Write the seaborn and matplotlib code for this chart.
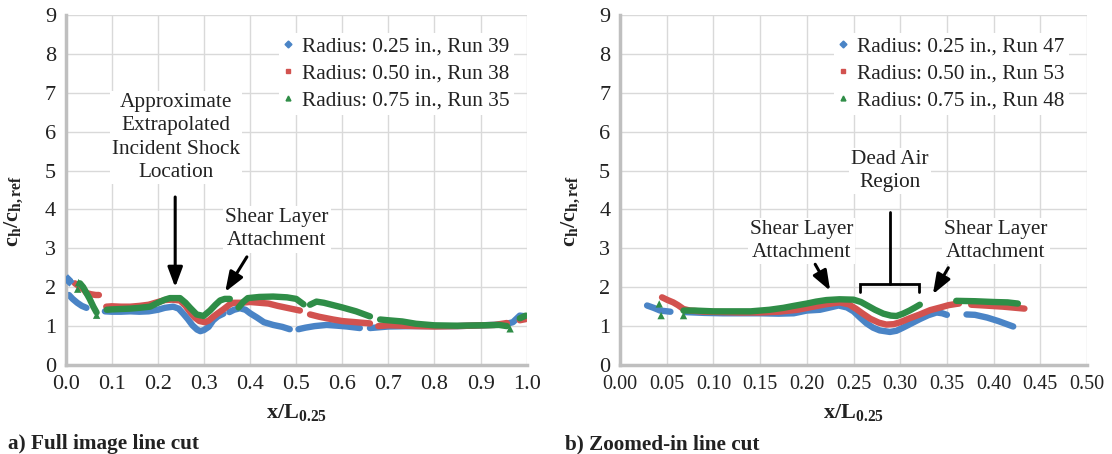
import numpy as np
import pandas as pd
import matplotlib
matplotlib.use("Agg")
import matplotlib.pyplot as plt
from matplotlib.lines import Line2D
from matplotlib.ticker import FormatStrFormatter
import seaborn as sns

nan = np.nan

# ---------------- series labels and colours ----------------
labels_full = ["Radius: 0.25 in., Run 39", "Radius: 0.50 in., Run 38", "Radius: 0.75 in., Run 35"]
labels_zoom = ["Radius: 0.25 in., Run 47", "Radius: 0.50 in., Run 53", "Radius: 0.75 in., Run 48"]
colors = ["#4A84C6", "#D2524F", "#2F8D47"]
markers = ["D", "s", "^"]

# ---------------- a) full image line cut (nan separates runs of points) ----------------
full_r025_x = [0.007, 0.015, 0.025, 0.035, 0.045, nan,
               0.085, 0.10, 0.12, 0.14, 0.16, 0.18, 0.20, 0.215, 0.233, 0.245, 0.255, 0.265, 0.275,
               0.285, 0.292, 0.300, 0.31, 0.32, 0.33, 0.342, nan,
               0.355, 0.365, 0.378, 0.39, 0.40, 0.415, 0.43, 0.45, 0.47, 0.486, nan,
               0.505, 0.52, 0.54, 0.566, 0.59, 0.61, 0.638, nan,
               0.66, 0.70, 0.75, 0.80, 0.85, 0.90, 0.95, 0.97, 0.985, 0.998]
full_r025_y = [1.80, 1.70, 1.60, 1.52, 1.47, nan,
               1.38, 1.37, 1.37, 1.38, 1.37, 1.38, 1.42, 1.47, 1.50, 1.45, 1.32, 1.18, 1.02,
               0.91, 0.87, 0.90, 0.98, 1.15, 1.25, 1.32, nan,
               1.36, 1.42, 1.46, 1.42, 1.33, 1.22, 1.10, 1.03, 0.98, 0.92, nan,
               0.92, 0.96, 1.00, 1.03, 1.01, 0.99, 0.95, nan,
               0.95, 0.99, 1.00, 1.00, 1.00, 1.02, 1.04, 1.10, 1.27, 1.25]
full_r050_x = [0.020, 0.030, 0.040, 0.045, 0.055, 0.065, 0.072, nan,
               0.088, 0.10, 0.12, 0.14, 0.16, 0.18, 0.20, 0.215, 0.23, 0.248, 0.26, 0.27, 0.28,
               0.29, 0.302, 0.31, 0.32, 0.33, 0.342, 0.356, 0.364, 0.38, 0.40, 0.42, 0.44,
               0.46, 0.48, 0.50, 0.508, nan,
               0.53, 0.55, 0.58, 0.60, 0.63, 0.66, nan,
               0.678, 0.70, 0.73, 0.76, 0.80, 0.85, 0.90, 0.93, 0.957, nan,
               0.985, 0.998]
full_r050_y = [2.10, 2.02, 1.93, 1.85, 1.82, 1.80, 1.80, nan,
               1.50, 1.51, 1.50, 1.50, 1.52, 1.55, 1.62, 1.67, 1.68, 1.66, 1.52, 1.36, 1.22,
               1.13, 1.10, 1.14, 1.24, 1.33, 1.43, 1.56, 1.60, 1.60, 1.62, 1.60, 1.58,
               1.52, 1.47, 1.42, 1.40, nan,
               1.30, 1.24, 1.17, 1.13, 1.10, 1.07, nan,
               1.00, 1.02, 1.01, 1.00, 0.99, 1.00, 1.02, 1.03, 1.08, nan,
               1.15, 1.18]
full_r075_x = [0.031, 0.038, 0.045, 0.052, 0.060, 0.067, nan,
               0.089, 0.10, 0.12, 0.14, 0.16, 0.183, 0.20, 0.215, 0.226, 0.248, 0.26, 0.27,
               0.284, 0.299, 0.313, 0.325, 0.335, 0.345, 0.356, nan,
               0.375, 0.385, 0.395, 0.42, 0.45, 0.48, 0.50, 0.516, nan,
               0.53, 0.544, 0.56, 0.60, 0.63, 0.66, nan,
               0.682, 0.70, 0.73, 0.76, 0.78, 0.80, 0.85, 0.90, 0.94, 0.957, nan,
               0.985, 0.998]
full_r075_y = [2.10, 2.00, 1.85, 1.70, 1.50, 1.35, nan,
               1.42, 1.43, 1.44, 1.45, 1.47, 1.50, 1.60, 1.68, 1.72, 1.72, 1.60, 1.47,
               1.30, 1.26, 1.40, 1.55, 1.66, 1.70, 1.70, nan,
               1.48, 1.62, 1.72, 1.75, 1.76, 1.74, 1.70, 1.56, nan,
               1.55, 1.63, 1.60, 1.48, 1.38, 1.25, nan,
               1.17, 1.15, 1.12, 1.06, 1.04, 1.02, 1.01, 1.02, 1.03, 1.00, nan,
               1.20, 1.27]
# stray single samples
full_r025_pts_x = [0.005, 0.008]
full_r025_pts_y = [2.20, 2.15]
full_r075_pts_x = [0.026, 0.028, 0.067, 0.964]
full_r075_pts_y = [1.95, 2.12, 1.28, 0.93]

# ---------------- b) zoomed-in line cut ----------------
zoom_r025_x = [0.029, 0.036, 0.043, 0.054, nan,
               0.07, 0.09, 0.11, 0.13, 0.15, 0.17, 0.186, 0.20, 0.214, 0.225, 0.234, 0.243, 0.25,
               0.257, 0.264, 0.271, 0.278, 0.289, 0.296, 0.303, 0.312, 0.321, 0.33, 0.339, 0.345,
               0.35, nan,
               0.371, 0.38, 0.393, 0.405, 0.421]
zoom_r025_y = [1.53, 1.47, 1.40, 1.37, nan,
               1.36, 1.34, 1.33, 1.33, 1.33, 1.32, 1.33, 1.40, 1.42, 1.48, 1.53, 1.48, 1.38,
               1.22, 1.07, 0.96, 0.89, 0.85, 0.88, 0.96, 1.07, 1.18, 1.28, 1.35, 1.33,
               1.29, nan,
               1.30, 1.29, 1.22, 1.13, 0.99]
zoom_r050_x = [0.045, 0.051, 0.057, 0.062, 0.068, 0.075, 0.09, 0.11, 0.13, 0.15, 0.17, 0.19,
               0.207, 0.22, 0.235, 0.245, 0.253, 0.26, 0.268, 0.277, 0.285, 0.293, 0.30, 0.31,
               0.321, 0.332, 0.343, 0.352, 0.36, 0.363, nan,
               0.376, 0.39, 0.41, 0.433]
zoom_r050_y = [1.74, 1.67, 1.61, 1.54, 1.44, 1.40, 1.37, 1.36, 1.35, 1.35, 1.37, 1.42,
               1.50, 1.56, 1.61, 1.56, 1.44, 1.32, 1.19, 1.09, 1.04, 1.05, 1.10, 1.20,
               1.30, 1.41, 1.48, 1.54, 1.57, 1.58, nan,
               1.55, 1.53, 1.50, 1.45]
zoom_r075_x = [0.068, 0.08, 0.10, 0.12, 0.14, 0.16, 0.175, 0.186, 0.20, 0.21, 0.221, 0.235,
               0.25, 0.258, 0.264, 0.273, 0.282, 0.29, 0.296, 0.303, 0.31, 0.316, 0.321, nan,
               0.36, 0.38, 0.40, 0.415, 0.426]
zoom_r075_y = [1.40, 1.40, 1.38, 1.38, 1.38, 1.42, 1.47, 1.52, 1.58, 1.63, 1.67, 1.69,
               1.68, 1.62, 1.54, 1.42, 1.32, 1.27, 1.26, 1.32, 1.40, 1.48, 1.55, nan,
               1.65, 1.64, 1.62, 1.61, 1.58]
zoom_r075_pts_x = [0.042, 0.044, 0.068]
zoom_r075_pts_y = [1.57, 1.27, 1.27]

full_ticks = np.round(np.arange(0, 1.001, 0.1), 2)
zoom_ticks = np.round(np.arange(0, 0.501, 0.05), 3)
y_ticks = list(range(0, 10))


def runs_frame(xs, ys, label):
    """Split a nan-separated list into contiguous runs for plotting."""
    x = np.asarray(xs, float)
    y = np.asarray(ys, float)
    run = np.cumsum(np.isnan(x))
    ok = ~np.isnan(x)
    return pd.DataFrame({"x": x[ok], "y": y[ok], "run": run[ok], "series": label})


sns.set_theme(style="white")
plt.rcParams["font.family"] = ["Liberation Serif", "DejaVu Serif"]
plt.rcParams["mathtext.fontset"] = "custom"
plt.rcParams["mathtext.rm"] = "Liberation Serif"
plt.rcParams["mathtext.it"] = "Liberation Serif:italic"
plt.rcParams["mathtext.bf"] = "Liberation Serif:bold"

fig = plt.figure(figsize=(11.12, 4.54), dpi=100)
W, H = 1112, 454
ax1 = fig.add_axes([65.7 / W, 1 - 365 / H, 461 / W, 350 / H])
ax2 = fig.add_axes([620 / W, 1 - 365 / H, 467 / W, 350 / H])

grid_c = "#d9d9d9"
spine_c = "#bfbfbf"
ink = "#222222"
text_fs = 15.3
lsp = 1.3


def style_axes(ax, xmax, ticks, fmt, xtick_fs):
    ax.set_xlim(0, xmax)
    ax.set_ylim(0, 9)
    ax.set_xticks(ticks)
    ax.set_yticks(y_ticks)
    ax.xaxis.set_major_formatter(FormatStrFormatter(fmt))
    ax.grid(True, color=grid_c, lw=1.0)
    ax.set_axisbelow(True)
    for s in ("top", "right"):
        ax.spines[s].set_visible(False)
    for s in ("left", "bottom"):
        ax.spines[s].set_color(spine_c)
        ax.spines[s].set_linewidth(2.5)
    ax.tick_params(axis="both", direction="out", length=4, width=1.2, color=spine_c,
                   colors=ink, pad=3)
    ax.tick_params(axis="x", labelsize=xtick_fs)
    ax.tick_params(axis="y", labelsize=16)
    ax.set_xlabel(r"$\mathbf{x/L_{0.25}}$", fontsize=16, color=ink)
    ax.set_ylabel(r"$\mathbf{c_h/c_{h,ref}}$", fontsize=16, color=ink)
    ax.xaxis.set_label_coords(0.5, -0.105)


def draw_panel(ax, series, pts, labels):
    df = pd.concat([runs_frame(x, y, lab) for (x, y), lab in zip(series, labels)])
    sns.lineplot(data=df, x="x", y="y", hue="series", hue_order=labels, units="run",
                 estimator=None, sort=False, palette=colors, lw=4.6, legend=False, ax=ax)
    for i, (px, py) in pts.items():
        sns.scatterplot(x=px, y=py, color=colors[i], marker=markers[i], s=28,
                        edgecolor="none", ax=ax, zorder=3)
    handles = [Line2D([], [], ls="none", marker=m, color=c, markersize=3.5)
               for m, c in zip(markers, colors)]
    return handles


h1 = draw_panel(ax1,
                [(full_r025_x, full_r025_y), (full_r050_x, full_r050_y), (full_r075_x, full_r075_y)],
                {0: (full_r025_pts_x, full_r025_pts_y), 2: (full_r075_pts_x, full_r075_pts_y)},
                labels_full)
h2 = draw_panel(ax2,
                [(zoom_r025_x, zoom_r025_y), (zoom_r050_x, zoom_r050_y), (zoom_r075_x, zoom_r075_y)],
                {2: (zoom_r075_pts_x, zoom_r075_pts_y)},
                labels_zoom)

style_axes(ax1, 1.0, full_ticks, "%.1f", 16)
style_axes(ax2, 0.5, zoom_ticks, "%.2f", 14.5)
ax1.yaxis.set_label_coords(-0.088, 0.44)
ax2.yaxis.set_label_coords(-0.082, 0.44)


def add_legend(ax, handles, labels, x0):
    leg = ax.legend(handles, labels, loc="upper left", bbox_to_anchor=(x0, 0.95),
                    fontsize=text_fs, frameon=True, facecolor="white", edgecolor="none",
                    framealpha=1, borderpad=0.2, borderaxespad=0, handlelength=0.5,
                    handletextpad=0.4, labelspacing=0.33, fancybox=False)
    for t in leg.get_texts():
        t.set_color(ink)


add_legend(ax1, h1, labels_full, 0.462)
add_legend(ax2, h2, labels_zoom, 0.458)

box = dict(facecolor="white", edgecolor="none", pad=1.5)
arrow = dict(arrowstyle="-|>,head_length=0.8,head_width=0.3", lw=2.2, color="black",
             mutation_scale=15, shrinkA=0, shrinkB=0)

# annotations, panel a
ax1.text(0.239, 5.85, "Approximate\nExtrapolated\nIncident Shock\nLocation", ha="center",
         va="center", fontsize=text_fs, color=ink, bbox=box, linespacing=lsp)
ax1.annotate("", xy=(0.2375, 2.0), xytext=(0.2375, 4.32), arrowprops=arrow)
ax1.text(0.458, 3.49, "Shear Layer\nAttachment", ha="center", va="center", fontsize=text_fs,
         color=ink, bbox=box, linespacing=lsp)
ax1.annotate("", xy=(0.346, 1.88), xytext=(0.393, 2.78), arrowprops=arrow)

# annotations, panel b
ax2.text(0.289, 4.99, "Dead Air\nRegion", ha="center", va="center", fontsize=text_fs,
         color=ink, bbox=box, linespacing=lsp)
ax2.plot([0.289, 0.289], [3.94, 2.08], color="black", lw=2.0, zorder=4)
ax2.plot([0.257, 0.257, 0.320, 0.320], [1.87, 2.08, 2.08, 1.87], color="black", lw=2.0,
         zorder=4, solid_joinstyle="miter")
ax2.text(0.1945, 3.19, "Shear Layer\nAttachment", ha="center", va="center", fontsize=text_fs,
         color=ink, bbox=box, linespacing=lsp)
ax2.annotate("", xy=(0.225, 1.91), xytext=(0.209, 2.59), arrowprops=arrow)
ax2.text(0.4026, 3.19, "Shear Layer\nAttachment", ha="center", va="center", fontsize=text_fs,
         color=ink, bbox=box, linespacing=lsp)
ax2.annotate("", xy=(0.335, 1.82), xytext=(0.3515, 2.5), arrowprops=arrow)

fig.text(8 / W, 1 - 449 / H, "a) Full image line cut", fontsize=text_fs, fontweight="bold",
         va="baseline", ha="left", color=ink)
fig.text(565 / W, 1 - 449 / H, "b) Zoomed-in line cut", fontsize=text_fs, fontweight="bold",
         va="baseline", ha="left", color=ink)

fig.savefig("out.png", dpi=100)
